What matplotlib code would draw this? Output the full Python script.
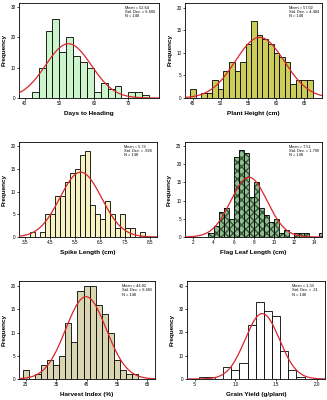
import matplotlib
matplotlib.use("Agg")
import matplotlib.pyplot as plt
import numpy as np

plt.rcParams['font.family'] = ['Liberation Sans', 'DejaVu Sans']

# bin start, bin width and counts
heading_start, heading_width = 42, 2
heading_counts = [2, 10, 22, 26, 15, 20, 14, 12, 10, 2, 5, 3, 4, 0, 2, 2, 1]

height_start, height_width = 44.5, 1
height_counts = [2, 0, 1, 1, 4, 2, 6, 8, 6, 8, 12, 17, 14, 13, 12, 10, 9, 8, 3, 4, 4, 4]

spike_start, spike_width = 3.7, 0.2
spike_counts = [1, 0, 1, 5, 5, 9, 9, 12, 14, 15, 18, 19, 7, 5, 4, 8, 5, 2, 5, 2, 2, 0, 1]

flag_start, flag_width = 3.5, 0.5
flag_counts = [1, 3, 7, 8, 5, 22, 24, 23, 11, 15, 8, 6, 4, 5, 1, 2, 0, 1, 1, 1, 0, 0, 1]

harvest_start, harvest_width = 24, 2
harvest_counts = [2, 0, 1, 3, 4, 3, 5, 12, 8, 19, 20, 20, 16, 14, 10, 4, 2, 1, 1]

grain_start, grain_width = 0.55, 0.1
grain_counts = [1, 1, 0, 5, 4, 7, 23, 33, 29, 27, 12, 4, 1]

means = [52.64, 57.02, 5.73, 7.51, 44.82, 1.33]
sds = [6.606, 4.404, 0.828, 1.799, 6.665, 0.21]
mean_txt = ["52.64", "57.02", "5.73", "7.51", "44.82", "1.33"]
sd_txt = ["6.606", "4.404", ".828", "1.799", "6.665", ".21"]
n_obs = 148

labels = ["Days to Heading", "Plant Height (cm)", "Spike Length (cm)",
          "Flag Leaf Length (cm)", "Harvest Index (%)", "Grain Yield (g/plant)"]

xticks = [[40, 50, 60, 70], [45, 50, 55, 60, 65], [3.5, 4.5, 5.5, 6.5, 7.5, 8.5],
          [2, 4, 6, 8, 10, 12, 14], [25, 35, 45, 55, 65], [0.5, 1.0, 1.5, 2.0]]
xticklabels = [None, None, None, None, None, [".5", "1.0", "1.5", "2.0"]]
yticks = [[0, 10, 20, 30], [0, 5, 10, 15, 20], [0, 5, 10, 15, 20],
          [0, 5, 10, 15, 20, 25], [0, 5, 10, 15, 20], [0, 10, 20, 30, 40]]
xlims = [(38.3, 78.9), (43.6, 68.2), (3.27, 8.77), (1.17, 14.76), (22.8, 67.5), (0.406, 2.10)]
ylims = [31.3, 21, 20.9, 26.1, 21.1, 42.1]

colors = ["#ccf5cc", "#cccc5a", "#f7f2c4", "#93bb93", "#d8d5b0", "#ffffff"]

hists = [(heading_start, heading_width, heading_counts),
         (height_start, height_width, height_counts),
         (spike_start, spike_width, spike_counts),
         (flag_start, flag_width, flag_counts),
         (harvest_start, harvest_width, harvest_counts),
         (grain_start, grain_width, grain_counts)]

# axes boxes in pixels: left, top, right, bottom
boxes = [(19, 3, 159, 98), (185, 3, 322, 98),
         (19, 142, 157, 237), (185, 142, 322, 237),
         (19, 281, 155, 379), (187, 281, 325, 379)]

W, H = 327, 400
fig = plt.figure(figsize=(W / 100, H / 100), dpi=100)

for i in range(6):
    l, t, r, b = boxes[i]
    ax = fig.add_axes([l / W, 1 - b / H, (r - l) / W, (b - t) / H])
    start, width, counts = hists[i]
    lefts = start + width * np.arange(len(counts))
    if i == 3:
        ax.bar(lefts, counts, width=width, align='edge', color=colors[i],
               edgecolor='#2f5a2f', hatch='xxxx', lw=0, zorder=2)
        ax.bar(lefts, counts, width=width, align='edge', fill=False,
               edgecolor='black', lw=0.6, zorder=3)
    else:
        ax.bar(lefts, counts, width=width, align='edge', color=colors[i],
               edgecolor='black', lw=0.6, zorder=2)

    xs = np.linspace(xlims[i][0], xlims[i][1], 300)
    ys = n_obs * width / (sds[i] * np.sqrt(2 * np.pi)) * np.exp(-0.5 * ((xs - means[i]) / sds[i]) ** 2)
    ax.plot(xs, ys, color='#d9262b', lw=0.9, zorder=4)

    ax.set_xlim(*xlims[i])
    ax.set_ylim(0, ylims[i])
    ax.set_xticks(xticks[i])
    if xticklabels[i]:
        ax.set_xticklabels(xticklabels[i])
    ax.set_yticks(yticks[i])
    ax.tick_params(labelsize=3.3, length=1.5, width=0.5, pad=1)
    for s in ax.spines.values():
        s.set_linewidth(0.6)
    ax.set_xlabel(labels[i], fontsize=4.6, fontweight='bold', labelpad=3)
    ax.set_ylabel("Frequency", fontsize=4.6, fontweight='bold', labelpad=3)
    ax.text(0.76, 0.97, "Mean = %s\nStd. Dev. = %s\nN = %d" % (mean_txt[i], sd_txt[i], n_obs),
            transform=ax.transAxes, fontsize=2.8, va='top', ha='left', linespacing=1.1)

fig.savefig("out.png", dpi=100)
